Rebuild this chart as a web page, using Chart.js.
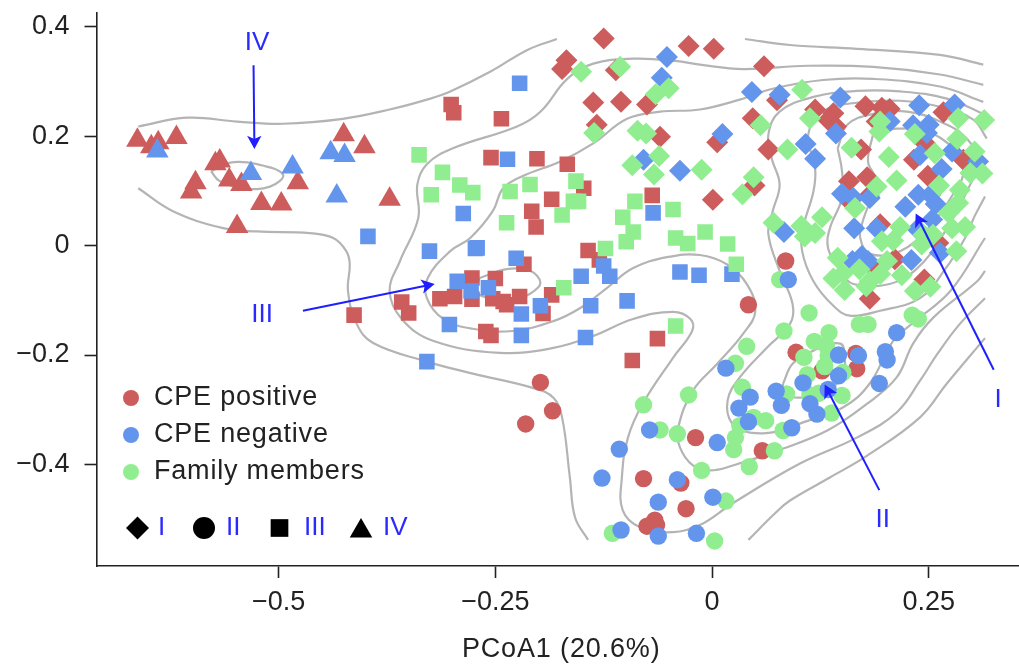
<!DOCTYPE html>
<html>
<head>
<meta charset="utf-8">
<title>PCoA</title>
<script src="https://cdn.jsdelivr.net/npm/chart.js@4/dist/chart.umd.js"></script>
<style>
html,body{margin:0;padding:0;background:#fff;overflow:hidden;}
canvas{display:block;}
</style>
</head>
<body>
<!-- chart.js keeps 13px free on the right, the extra width lets the x axis run to the window edge -->
<canvas id="pcoaChart" width="1032" height="665"></canvas>
<script>
//axis values
var xRange = [-0.7102, 0.3542];
var yRange = [-0.5858, 0.4255];
var xTicks = [-0.5, -0.25, 0, 0.25];
var xTickLabels = ['\u22120.5', '\u22120.25', '0', '0.25'];
var yTicks = [-0.4, -0.2, 0, 0.2, 0.4];
var yTickLabels = ['\u22120.4', '\u22120.2', '0', '0.2', '0.4'];
var xTitle = 'PCoA1 (20.6%)';
var xTitleAt = -0.174;

//legend
var groupNames = ['CPE positive', 'CPE negative', 'Family members'];
var groupColors = ['#cd5c5c', '#6495ed', '#90ee90'];
var typeNames = ['I', 'II', 'III', 'IV'];

//cluster IV, triangles
var triRed = [[-.663,.193],[-.647,.181],[-.639,.188],[-.618,.198],[-.573,.150],[-.568,.155],[-.596,.115],[-.601,.098],[-.557,.120],[-.543,.112],[-.478,.115],[-.520,.077],[-.497,.076],[-.548,.035],[-.425,.203],[-.401,.181],[-.372,.085]];
var triBlue = [[-.640,.173],[-.532,.132],[-.484,.144],[-.440,.170],[-.424,.165],[-.433,.091]];

//cluster III, squares
var squareRed = [[-.301,.258],[-.298,.243],[-.243,.232],[-.255,.161],[-.202,.159],[-.167,.149],[-.148,.105],[-.185,.085],[-.208,.063],[-.203,.034],[-.069,.092],[-.143,-.009],[-.130,-.026],[-.217,-.034],[-.413,-.127],[-.358,-.103],[-.350,-.123],[-.314,-.097],[-.297,-.093],[-.277,-.059],[-.277,-.098],[-.250,-.060],[-.253,-.097],[-.241,-.102],[-.237,-.108],[-.222,-.093],[-.185,-.090],[-.195,-.124],[-.261,-.157],[-.255,-.164],[-.063,-.170],[-.092,-.210]];
var squareBlue = [[-.222,.297],[-.236,.158],[-.287,.059],[-.326,-.010],[-.271,-.004],[-.273,-.005],[-.397,.017],[-.226,-.023],[-.151,-.056],[-.125,-.037],[-.118,-.056],[-.037,-.048],[-.015,-.054],[-.068,.060],[.023,-.052],[-.294,-.065],[-.278,-.083],[-.258,-.077],[-.303,-.144],[-.220,-.125],[-.198,-.110],[-.220,-.164],[-.140,-.110],[-.098,-.101],[-.146,-.168],[-.329,-.212]];
var squareGreen = [[-.338,.166],[-.311,.134],[-.324,.093],[-.291,.111],[-.276,.097],[-.233,.099],[-.210,.112],[-.157,.118],[-.160,.081],[-.154,.081],[-.173,.056],[-.237,.042],[-.089,.081],[-.103,.052],[-.091,.025],[-.099,.007],[-.123,-.005],[-.045,.066],[-.042,.014],[-.028,.004],[-.008,.025],[.018,.003],[.028,-.034],[-.171,-.077],[-.042,-.147]];

//cluster II, circles
var circleRed = [[.042,-.108],[.085,-.028],[-.198,-.250],[-.184,-.302],[-.215,-.326],[.097,-.195],[.166,-.197],[.167,-.225],[.127,-.229],[-.019,-.351],[.058,-.375],[-.079,-.426],[-.036,-.434],[-.030,-.481],[-.066,-.502],[-.075,-.513],[-.064,-.511]];
var circleBlue = [[.016,-.224],[.044,-.277],[.031,-.297],[.042,-.322],[.074,-.266],[.080,-.292],[.105,-.251],[.134,-.263],[.146,-.200],[.146,-.238],[.169,-.201],[.200,-.194],[.202,-.209],[.213,-.159],[.193,-.252],[.113,-.289],[.121,-.308],[.092,-.333],[.006,-.360],[-.072,-.337],[-.107,-.372],[-.127,-.425],[-.040,-.428],[-.062,-.469],[.001,-.460],[-.105,-.520],[-.062,-.531],[-.018,-.526],[.088,-.062]];
var circleGreen = [[.112,-.123],[.083,-.156],[.040,-.184],[.027,-.215],[.035,-.259],[-.027,-.273],[-.079,-.291],[-.060,-.337],[-.040,-.344],[.048,-.314],[.062,-.320],[.032,-.329],[.027,-.351],[.025,-.373],[.043,-.404],[.072,-.375],[-.012,-.411],[.082,-.338],[.086,-.271],[.110,-.236],[.106,-.204],[.118,-.175],[.135,-.159],[.132,-.183],[.134,-.201],[.130,-.221],[.113,-.273],[.123,-.270],[.150,-.274],[.138,-.306],[.151,-.232],[.170,-.144],[.180,-.144],[.231,-.127],[.238,-.134],[.016,-.467],[-.115,-.526],[.003,-.540],[.078,-.062]];

//cluster I, diamonds
var diamondRed = [[-.125,.379],[-.027,.365],[.002,.360],[-.168,.339],[-.173,.323],[-.111,.321],[-.137,.262],[-.105,.263],[-.075,.258],[-.133,.221],[-.060,.199],[.006,.189],[.001,.084],[.060,.328],[.075,.266],[.047,.233],[.065,.176],[.049,.110],[.119,.249],[.140,.242],[.134,.230],[.143,.218],[.177,.255],[.196,.252],[.205,.250],[.190,.227],[.172,.176],[.158,.118],[.179,.125],[.181,.091],[.155,.087],[.267,.244],[.246,.187],[.233,.157],[.249,.128],[.290,.157],[.194,.039],[.261,.005],[.211,-.025],[.186,-.040],[.245,-.062],[.182,-.097]];
var diamondBlue = [[-.052,.345],[-.058,.307],[-.079,.157],[-.037,.137],[.012,.204],[.046,.281],[.078,.276],[.148,.271],[.108,.186],[.119,.159],[.143,.205],[.239,.257],[.280,.258],[.232,.220],[.250,.221],[.248,.206],[.205,.227],[.277,.172],[.240,.166],[.307,.154],[.265,.140],[.150,.095],[.163,.087],[.182,.087],[.238,.093],[.252,.093],[.223,.071],[.258,.076],[.254,.048],[.237,.030],[.164,.032],[.190,.032],[.083,.025],[.230,-.026],[.263,-.013],[.162,-.028],[.173,-.019],[.180,-.028]];
var diamondGreen = [[-.151,.318],[-.106,.327],[-.065,.277],[-.050,.288],[-.136,.206],[-.086,.210],[-.076,.205],[-.061,.164],[-.092,.147],[-.067,.130],[-.012,.139],[.104,.285],[.056,.220],[.113,.233],[.314,.230],[.284,.233],[.194,.227],[.193,.209],[.234,.204],[.283,.195],[.087,.176],[.161,.179],[.204,.162],[.257,.169],[.303,.172],[.298,.133],[.312,.132],[.213,.119],[.048,.125],[.035,.094],[.190,.108],[.262,.110],[.286,.102],[.165,.069],[.284,.078],[.273,.060],[.127,.052],[.217,.034],[.277,.032],[.292,.034],[.071,.042],[.103,.036],[.119,.023],[.107,.017],[.244,.020],[.255,.020],[.196,.008],[.209,.009],[.242,.002],[.282,-.010],[.145,-.022],[.202,-.028],[.170,-.043],[.140,-.060],[.151,-.051],[.219,-.054],[.194,-.052],[.182,-.065],[.153,-.081],[.178,-.074],[.234,-.083],[.252,-.075]];

//density contours
var contour1 = [[-.662,.218],[-.606,.234],[-.548,.227],[-.495,.223],[-.426,.232],[-.372,.249],[-.325,.269],[-.302,.282],[-.256,.318],[-.213,.358],[-.179,.378]];
var contour2 = [[-.662,.105],[-.622,.063],[-.564,.032],[-.525,.026],[-.464,.023],[-.437,.014],[-.422,-.010],[-.418,-.034],[-.420,-.083],[-.410,-.143],[-.391,-.178],[-.329,-.212],[-.276,-.234],[-.207,-.260],[-.183,-.278],[-.173,-.314],[-.164,-.424],[-.158,-.497],[-.143,-.538]];
var contour3 = [[.313,.294],[.263,.313],[.186,.327],[.110,.329],[.036,.323],[-.014,.331],[-.042,.338],[-.091,.342],[-.137,.333],[-.167,.305],[-.198,.245],[-.225,.218],[-.299,.178],[-.329,.149],[-.340,.112],[-.339,.050],[-.360,-.028],[-.372,-.083],[-.358,-.134],[-.322,-.174],[-.245,-.196],[-.183,-.187],[-.137,-.165],[-.091,-.134],[-.045,-.121],[-.025,-.134],[-.023,-.156],[-.045,-.205],[-.080,-.289],[-.097,-.351],[-.104,-.424],[-.103,-.484],[-.083,-.515],[-.045,-.524],[-.014,-.511],[.024,-.471],[.102,-.398],[.167,-.351],[.213,-.305],[.240,-.247],[.260,-.198],[.286,-.143],[.315,-.096]];
var contour4 = [[.313,.263],[.263,.291],[.186,.305],[.128,.303],[.070,.287],[.032,.267],[-.014,.249],[-.060,.245],[-.098,.232],[-.137,.187],[-.175,.154],[-.219,.127],[-.241,.105],[-.253,.063],[-.279,.014],[-.302,-.010],[-.328,-.059],[-.329,-.096],[-.310,-.134],[-.276,-.152],[-.230,-.156],[-.183,-.138],[-.152,-.114],[-.121,-.077],[-.091,-.041],[-.052,-.021],[-.014,-.017],[.017,-.034],[.040,-.070],[.050,-.119],[.036,-.161],[.006,-.216],[-.022,-.265],[-.039,-.333],[-.037,-.369],[-.022,-.402],[-.002,-.411],[.024,-.402],[.070,-.378],[.133,-.338],[.179,-.289],[.213,-.241],[.232,-.179],[.255,-.132],[.306,-.065],[.315,-.046]];
var contour5 = [[.313,.241],[.271,.269],[.217,.282],[.167,.283],[.117,.272],[.078,.245],[.065,.203],[.069,.159],[.078,.112],[.070,.063],[.065,.021],[.078,-.046],[.093,-.107],[.090,-.143],[.063,-.187],[.032,-.241],[.018,-.283],[.023,-.325],[.044,-.342],[.082,-.338],[.102,-.325],[.151,-.296],[.182,-.252],[.209,-.174],[.232,-.141],[.275,-.083],[.315,.014]];
var contour6 = [[.317,.196],[.301,.231],[.263,.254],[.217,.265],[.159,.260],[.128,.245],[.111,.203],[.119,.141],[.117,.099],[.105,.032],[.104,-.010],[.117,-.065],[.140,-.110],[.159,-.128],[.194,-.119],[.240,-.096],[.269,-.043],[.292,.014],[.303,.054],[.315,.090]];
var contour7 = [[.145,.178],[.156,.221],[.186,.241],[.225,.245],[.263,.227],[.294,.196],[.306,.154],[.294,.099],[.267,.021],[.237,-.041],[.205,-.070],[.163,-.070],[.148,-.046],[.134,-.005],[.136,.032],[.150,.087],[.150,.136],[.145,.178]];
var contour8 = [[.186,.205],[.213,.214],[.248,.209],[.278,.178],[.290,.136],[.280,.099],[.252,.036],[.217,-.010],[.182,-.015],[.171,.014],[.174,.045],[.189,.118],[.180,.154],[.186,.205]];
var contour9 = [[.082,-.252],[.093,-.216],[.117,-.192],[.148,-.179],[.153,-.205],[.151,-.238],[.130,-.269],[.102,-.278],[.082,-.271],[.082,-.252]];
var contour10 = [[-.268,-.059],[-.237,-.043],[-.210,-.046],[-.198,-.068],[-.210,-.088],[-.233,-.101],[-.256,-.097],[-.273,-.083],[-.268,-.059]];
var contour11 = [[-.578,.136],[-.556,.152],[-.525,.149],[-.495,.130],[-.510,.108],[-.541,.105],[-.568,.118],[-.578,.136]];
var contour12 = [[.038,.378],[.090,.367],[.167,.360],[.263,.349],[.313,.331]];
var contour13 = [[.042,-.538],[.073,-.489],[.090,-.466],[.136,-.424],[.179,-.384],[.240,-.314],[.271,-.252],[.315,-.169]];
var contours = [contour1,contour2,contour3,contour4,contour5,contour6,contour7,contour8,contour9,contour10,contour11,contour12,contour13];

//blue arrows and their labels
var arrowNames = ['IV', 'III', 'I', 'II'];
var arrowFrom = [[-.529,.330],[-.472,-.119],[.325,-.227],[.193,-.447]];
var arrowTo = [[-.528,.177],[-.320,-.070],[.235,.059],[.130,-.254]];
var arrowLabelAt = [[-.525,.371],[-.519,-.127],[.330,-.282],[.197,-.502]];

var sansFont = '"Liberation Sans", Arial, sans-serif';
var inkColor = '#222222';
var noteColor = '#2a2aff';

function toPoints(list){
	return list.map(function(p){ return {x:p[0], y:p[1]}; });
}
function markSet(list, shape, color, size){
	return {
		data: toPoints(list),
		pointStyle: shape,
		pointRadius: size,
		pointBackgroundColor: color,
		pointBorderWidth: 0,
		showLine: false
	};
}
function contourSet(list){
	return {
		data: toPoints(list),
		showLine: true,
		tension: 0.4,
		borderColor: '#b4b4b4',
		borderWidth: 2.2,
		pointRadius: 0
	};
}

//bottom layer first, flipped below because chart.js paints the first dataset last
var datasets = contours.map(contourSet).concat([
	markSet(squareRed, 'rect', groupColors[0], 11),
	markSet(squareBlue, 'rect', groupColors[1], 11),
	markSet(squareGreen, 'rect', groupColors[2], 11),
	markSet(circleRed, 'circle', groupColors[0], 8.7),
	markSet(circleGreen, 'circle', groupColors[2], 8.7),
	markSet(circleBlue, 'circle', groupColors[1], 8.7),
	markSet(diamondRed, 'rectRot', groupColors[0], 11),
	markSet(diamondBlue, 'rectRot', groupColors[1], 11),
	markSet(diamondGreen, 'rectRot', groupColors[2], 11),
	markSet(triRed, 'triangle', groupColors[0], 13),
	markSet(triBlue, 'triangle', groupColors[1], 13)
]).reverse();

//arrows, labels, legend and the x title are painted over the marks
var notesPlugin = {
	id: 'notes',
	afterDatasetsDraw: function(chart){
		var ctx = chart.ctx;
		var xs = chart.scales.x;
		var ys = chart.scales.y;
		ctx.save();
		ctx.textBaseline = 'middle';

		//arrows
		for(var i=0;i<arrowNames.length;i++){
			var x1 = xs.getPixelForValue(arrowFrom[i][0]);
			var y1 = ys.getPixelForValue(arrowFrom[i][1]);
			var x2 = xs.getPixelForValue(arrowTo[i][0]);
			var y2 = ys.getPixelForValue(arrowTo[i][1]);
			var a = Math.atan2(y2-y1, x2-x1);
			ctx.strokeStyle = '#1f1fff';
			ctx.fillStyle = '#1f1fff';
			ctx.lineWidth = 2;
			ctx.beginPath();
			ctx.moveTo(x1, y1);
			ctx.lineTo(x2-8*Math.cos(a), y2-8*Math.sin(a));
			ctx.stroke();
			ctx.beginPath();
			ctx.moveTo(x2, y2);
			ctx.lineTo(x2-15*Math.cos(a-0.5), y2-15*Math.sin(a-0.5));
			ctx.lineTo(x2-10*Math.cos(a), y2-10*Math.sin(a));
			ctx.lineTo(x2-15*Math.cos(a+0.5), y2-15*Math.sin(a+0.5));
			ctx.closePath();
			ctx.fill();

			ctx.font = '26px ' + sansFont;
			ctx.fillStyle = noteColor;
			ctx.textAlign = 'center';
			ctx.fillText(arrowNames[i], xs.getPixelForValue(arrowLabelAt[i][0]), ys.getPixelForValue(arrowLabelAt[i][1]));
		}

		//colour legend, the reference type runs a little wide
		ctx.letterSpacing = '0.8px';
		for(var j=0;j<groupNames.length;j++){
			var rowY = 398 + j*37;
			ctx.fillStyle = groupColors[j];
			Chart.helpers.drawPoint(ctx, {pointStyle:'circle', radius:8, borderWidth:0}, 131, rowY);
			ctx.font = '27px ' + sansFont;
			ctx.fillStyle = inkColor;
			ctx.textAlign = 'left';
			ctx.fillText(groupNames[j], 154, rowY);
		}
		ctx.letterSpacing = '0px';

		//shape legend
		var shapes = ['rectRot', 'circle', 'rect', 'triangle'];
		var shapeX = [137.5, 204, 279.5, 361];
		var shapeR = [11.5, 11, 12.5, 13];
		var nameX = [158, 226, 304, 383];
		var shapeY = [528, 528, 528, 531];
		for(var k=0;k<shapes.length;k++){
			ctx.fillStyle = '#000000';
			Chart.helpers.drawPoint(ctx, {pointStyle:shapes[k], radius:shapeR[k], borderWidth:0, rotation:0}, shapeX[k], shapeY[k]);
			ctx.font = '26px ' + sansFont;
			ctx.fillStyle = noteColor;
			ctx.textAlign = 'left';
			ctx.fillText(typeNames[k], nameX[k], 528);
		}

		//x title, it sits right of the axis centre so the scale title does not fit
		ctx.letterSpacing = '0.85px';
		ctx.font = '27px ' + sansFont;
		ctx.fillStyle = inkColor;
		ctx.textAlign = 'center';
		ctx.fillText(xTitle, xs.getPixelForValue(xTitleAt), 650);
		ctx.restore();
	}
};

var myChart = new Chart(document.getElementById('pcoaChart'), {
	type: 'scatter',
	data: {datasets: datasets},
	plugins: [notesPlugin],
	options: {
		responsive: false,
		animation: false,
		events: [],
		layout: {padding: {top: 7, right: 0, left: 0, bottom: 0}},
		plugins: {legend: {display: false}, tooltip: {enabled: false}},
		scales: {
			x: {
				type: 'linear',
				min: xRange[0],
				max: xRange[1],
				afterFit: function(scale){
					scale.height = 99;
					scale.paddingLeft = 0;
					scale.paddingRight = 0;
				},
				afterBuildTicks: function(scale){
					scale.ticks = xTicks.map(function(v){ return {value:v}; });
				},
				border: {color: inkColor, width: 1.6},
				grid: {drawOnChartArea: false, tickLength: 12, tickColor: inkColor, tickWidth: 1.6},
				ticks: {
					color: inkColor,
					font: {family: sansFont, size: 27},
					padding: 8,
					maxRotation: 0,
					autoSkip: false,
					callback: function(value){ return xTickLabels[xTicks.indexOf(value)]; }
				}
			},
			y: {
				type: 'linear',
				min: yRange[0],
				max: yRange[1],
				afterFit: function(scale){
					scale.width = 96.5;
					scale.paddingTop = 0;
					scale.paddingBottom = 0;
				},
				afterBuildTicks: function(scale){
					scale.ticks = yTicks.map(function(v){ return {value:v}; });
				},
				border: {color: inkColor, width: 1.6},
				grid: {drawOnChartArea: false, tickLength: 12, tickColor: inkColor, tickWidth: 1.6},
				ticks: {
					color: inkColor,
					font: {family: sansFont, size: 27},
					padding: 15,
					autoSkip: false,
					callback: function(value){ return yTickLabels[yTicks.indexOf(value)]; }
				}
			}
		}
	}
});
</script>
</body>
</html>
